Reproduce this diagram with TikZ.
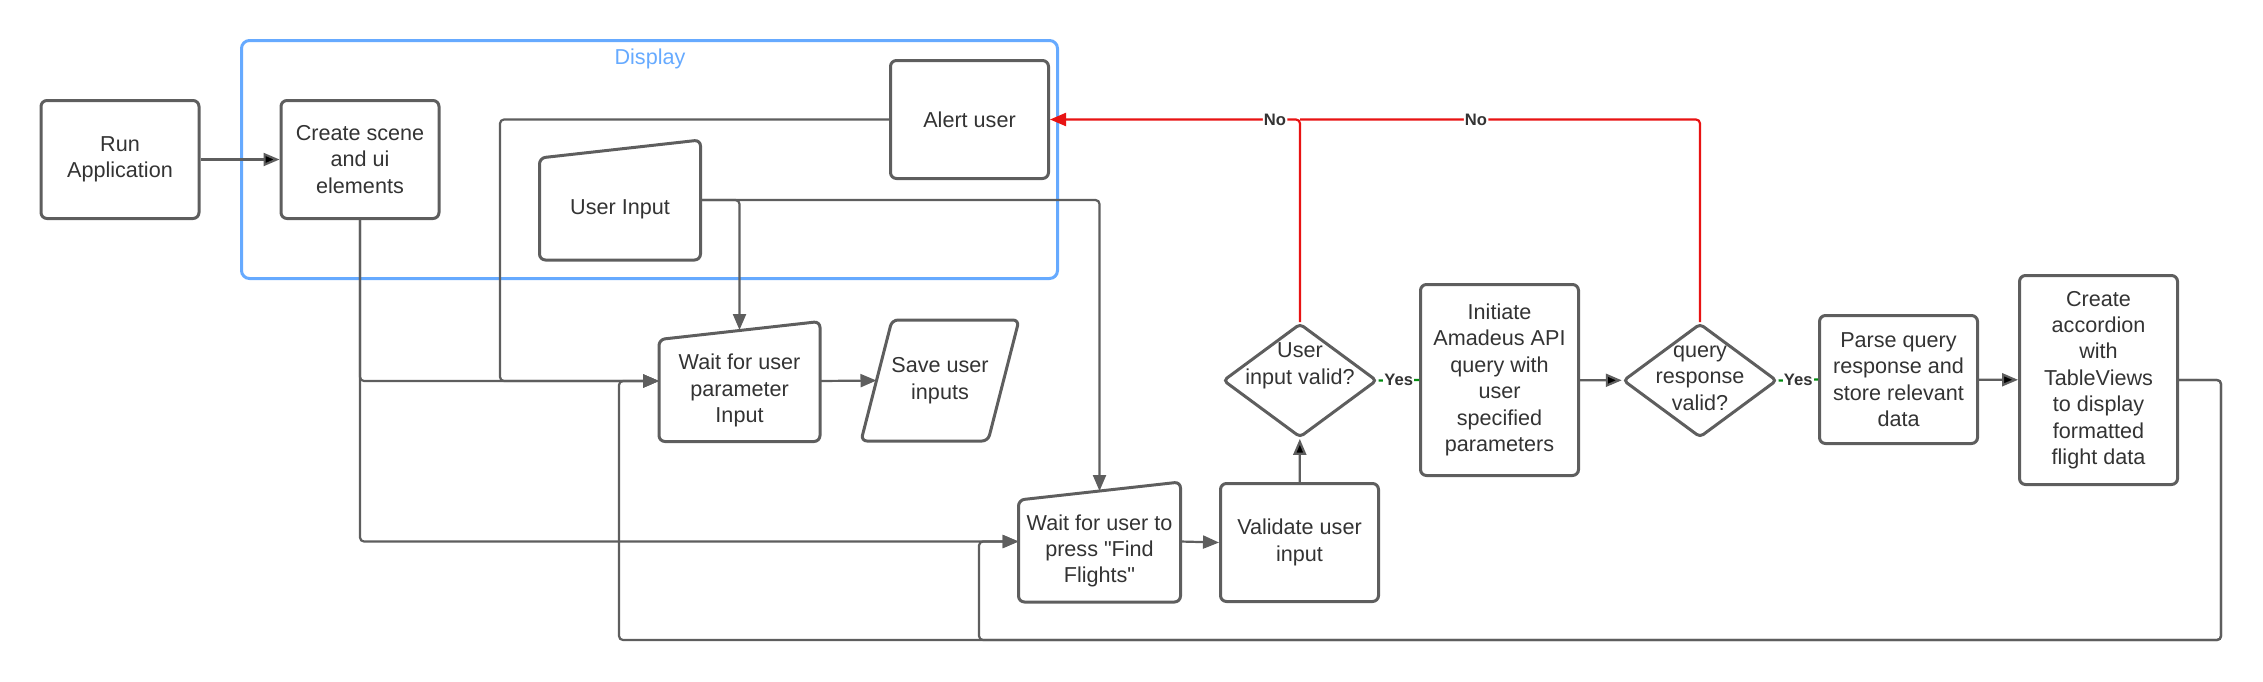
\documentclass[tikz,border=0pt]{standalone}
\usepackage{fontspec}
\setmainfont{Liberation Sans}
\usetikzlibrary{arrows.meta,shapes.geometric}
\definecolor{linegray}{HTML}{5E5E5E}
\definecolor{textgray}{HTML}{333333}
\definecolor{displayblue}{HTML}{66AAFF}
\definecolor{alertred}{HTML}{E81313}
\definecolor{yesgreen}{HTML}{008A0E}
\newcommand{\boxfont}{\fontsize{10.8pt}{13.2pt}\selectfont}
\newcommand{\tagfont}{\bfseries\fontsize{8.3pt}{10pt}\selectfont}
\begin{document}
\begin{tikzpicture}[x=0.5pt, y=-0.5pt, >={Triangle[length=8pt,width=6.5pt]},
box/.style={rectangle, rounded corners=3pt, draw=linegray, line width=1.5pt, minimum width=79pt, minimum height=59pt, align=center, text=textgray, font=\boxfont},
slanted/.style={box, draw=none, minimum height=49.5pt},
outline/.style={draw=linegray, line width=1.5pt, rounded corners=3pt},
decision/.style={diamond, draw=linegray, line width=1.5pt, rounded corners=2pt, minimum width=77pt, minimum height=57pt, inner sep=0pt},
decisiontext/.style={align=center, text=textgray, font=\boxfont},
group/.style={rectangle, rounded corners=4pt, draw=displayblue, line width=1.5pt, minimum width=408pt, minimum height=119pt},
conn/.style={draw=linegray, line width=1.1pt, rounded corners=2pt},
redline/.style={draw=alertred, line width=1.1pt, rounded corners=2pt},
yesline/.style={draw=yesgreen, line width=1.1pt},
tag/.style={fill=white, inner sep=0.6pt, text=textgray, font=\tagfont}]
\useasboundingbox (0,0) rectangle (2263,681);

% display group
\node[group] (display) at (649.5,159.5) {};
\node[text=displayblue, font=\boxfont] (displaytitle) at (650,59) {Display};

\node[box] (run) at (120,159.5) {Run\\Application};
\node[box] (scene) at (360,159.5) {Create scene\\and ui\\elements};
\node[box] (alert) at (969.5,119.5) {Alert user};
\node[slanted] (userin) at (620,209) {User Input};
\node[slanted] (waitparam) at (739.5,390.5) {Wait for user\\parameter\\Input};
\node[box, draw=none, minimum width=62pt] (saveinp) at (940,380.5) {Save user\\inputs};
\node[slanted] (waitfind) at (1099.5,551) {Wait for user to\\press \textquotedbl Find\\Flights\textquotedbl};
\node[box] (validate) at (1299.5,542.5) {Validate user\\input};
\node[decision] (valid) at (1300,380.5) {};
\node[decisiontext] (validtext) at (1300,366) {User\\input valid?};
\node[box, minimum height=95.5pt] (initiate) at (1499.5,380) {Initiate\\Amadeus API\\query with\\user\\specified\\parameters};
\node[decision] (respvalid) at (1700,380.5) {};
\node[decisiontext] (respvalidtext) at (1700,378) {query\\response\\valid?};
\node[box, minimum height=64pt] (parse) at (1898.5,379.5) {Parse query\\response and\\store relevant\\data};
\node[box, minimum height=104.5pt] (accord) at (2098.5,380) {Create\\accordion\\with\\TableViews\\to display\\formatted\\flight data};

% slanted tops and parallelogram
\foreach \n in {userin,waitparam,waitfind}
  \draw[outline] (\n.south west) -- (\n.north west) -- ([yshift=9pt]\n.north east) -- (\n.south east) -- cycle;
\draw[outline] ([xshift=-7.75pt]saveinp.south west) -- ([xshift=7.75pt]saveinp.north west) -- ([xshift=7.75pt]saveinp.north east) -- ([xshift=-7.75pt]saveinp.south east) -- cycle;

\path[conn,->]
  (run) edge (scene)
  (validate) edge (valid)
  (initiate) edge (respvalid)
  (parse) edge (accord);
\draw[conn,->] ([yshift=4.75pt]waitparam.east) -- (saveinp.west);
\draw[conn,->] ([yshift=4.75pt]waitfind.east) -- (validate.west);

\draw[conn,->] (scene.south) |- ([yshift=4.75pt]waitparam.west);
\draw[conn,->] (scene.south) |- ([yshift=4.75pt]waitfind.west);
\draw[conn,->] (alert.west) -- ++(-389,0) |- ([yshift=4.75pt]waitparam.west);
\draw[conn,->] ([yshift=4.5pt]userin.east) -| ([yshift=4.75pt]waitparam.north);
\draw[conn,->] ([yshift=4.5pt]userin.east) -| ([yshift=4.5pt]waitfind.north);

% loop back from the results
\coordinate (loopleft) at (619,640);
\coordinate (loopmid) at (979,640);
\draw[conn,->] (accord.east) -- ++(42,0) |- (loopleft) |- ([yshift=4.75pt]waitparam.west);
\draw[conn,->] (accord.east) -- ++(42,0) |- (loopmid) |- ([yshift=4.75pt]waitfind.west);

\draw[yesline] (valid.east) -- (initiate.west) node[tag, midway] (yes1) {Yes};
\draw[yesline] (respvalid.east) -- (parse.west) node[tag, midway] (yes2) {Yes};

\coordinate (nojoin) at (valid.north |- alert.east);
\draw[redline,->] (valid.north) |- (alert.east) node[tag, pos=0.55] (no1) {No};
\draw[redline] (respvalid.north) |- (nojoin) node[tag, pos=0.78] (no2) {No};
\end{tikzpicture}
\end{document}
